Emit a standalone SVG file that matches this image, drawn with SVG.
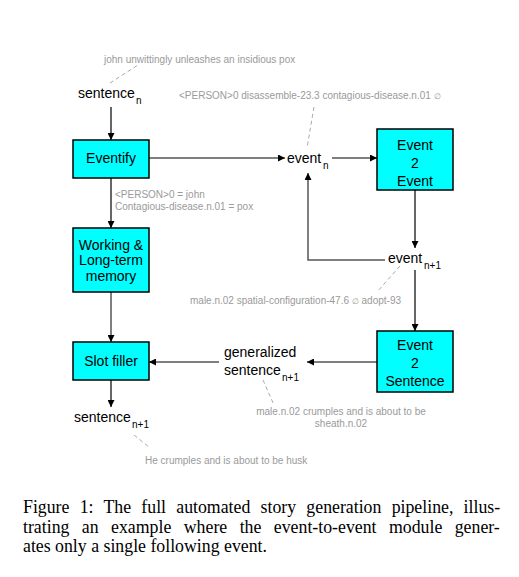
<svg xmlns="http://www.w3.org/2000/svg" width="519" height="577" viewBox="0 0 519 577">
<style>
.box{fill:#00ffff;stroke:#000;stroke-width:1.5}
.lbl{font-family:"Liberation Sans",Arial,sans-serif;font-size:14px;fill:#000}
.sub{font-family:"Liberation Sans",Arial,sans-serif;font-size:10px;fill:#000}
.gray{font-family:"Liberation Sans",Arial,sans-serif;font-size:10px;fill:#9a9a9a}
.sym{font-size:8px}
.ln{stroke:#000;stroke-width:1.2;fill:none}
.ln2{stroke:#555;stroke-width:1.5;fill:none}
.dash{stroke:#aaa;stroke-width:1;stroke-dasharray:4 3;fill:none}
.cap{font-family:"Liberation Serif","Times New Roman",serif;font-size:17.8px;fill:#000}
</style>
<defs>
<marker id="ah" viewBox="0 0 10 10" refX="10" refY="5" markerWidth="8" markerHeight="7" markerUnits="userSpaceOnUse" orient="auto">
<path d="M0,0 L10,5 L0,10 z" fill="#000"/>
</marker>
</defs>
<rect width="519" height="577" fill="#fff"/>

<g id="connectors">
<line class="ln" x1="111" y1="107" x2="111" y2="140" marker-end="url(#ah)"/>
<line class="ln" x1="149" y1="158" x2="285" y2="158" marker-end="url(#ah)"/>
<line class="ln" x1="332" y1="158" x2="377" y2="158" marker-end="url(#ah)"/>
<line class="ln" x1="111" y1="178" x2="111" y2="228" marker-end="url(#ah)"/>
<line class="ln2" x1="111" y1="292" x2="111" y2="342" marker-end="url(#ah)"/>
<line class="ln" x1="415" y1="190" x2="415" y2="248" marker-end="url(#ah)"/>
<polyline class="ln2" points="385,260 308,260 308,173" marker-end="url(#ah)"/>
<line class="ln" x1="415" y1="270" x2="415" y2="331" marker-end="url(#ah)"/>
<line class="ln" x1="377" y1="362" x2="307" y2="362" marker-end="url(#ah)"/>
<line class="ln" x1="219" y1="362" x2="149" y2="362" marker-end="url(#ah)"/>
<line class="ln" x1="111" y1="380" x2="111" y2="407" marker-end="url(#ah)"/>
<line class="dash" x1="110" y1="83" x2="138" y2="65"/>
<line class="dash" x1="314" y1="107" x2="307" y2="148"/>
<line class="dash" x1="400" y1="266" x2="377" y2="292"/>
<line class="dash" x1="263" y1="380" x2="274" y2="405"/>
<line class="dash" x1="134" y1="435" x2="149" y2="447"/>
</g>

<g id="sentence_n">
<text class="lbl" x="78" y="98">sentence</text><text class="sub" x="136" y="104">n</text>
</g>
<g id="eventify">
<rect class="box" x="73" y="140" width="76" height="38"/>
<text class="lbl" x="111" y="163" text-anchor="middle">Eventify</text>
</g>
<g id="memory">
<rect class="box" x="73" y="228" width="76" height="64"/>
<text class="lbl" x="111" y="250" text-anchor="middle">Working &amp;</text>
<text class="lbl" x="111" y="265" text-anchor="middle">Long-term</text>
<text class="lbl" x="111" y="281" text-anchor="middle">memory</text>
</g>
<g id="slotfiller">
<rect class="box" x="73" y="342" width="76" height="38"/>
<text class="lbl" x="111" y="366" text-anchor="middle">Slot filler</text>
</g>
<g id="sentence_n1">
<text class="lbl" x="74" y="422">sentence</text><text class="sub" x="132" y="428">n+1</text>
</g>
<g id="event_n">
<text class="lbl" x="287" y="163">event</text><text class="sub" x="323" y="169">n</text>
</g>
<g id="event2event">
<rect class="box" x="377" y="129" width="76" height="61"/>
<text class="lbl" x="415" y="150" text-anchor="middle">Event</text>
<text class="lbl" x="415" y="168" text-anchor="middle">2</text>
<text class="lbl" x="415" y="186" text-anchor="middle">Event</text>
</g>
<g id="event_n1">
<text class="lbl" x="388" y="263">event</text><text class="sub" x="424" y="269">n+1</text>
</g>
<g id="event2sentence">
<rect class="box" x="377" y="331" width="76" height="61"/>
<text class="lbl" x="415" y="350" text-anchor="middle">Event</text>
<text class="lbl" x="415" y="368" text-anchor="middle">2</text>
<text class="lbl" x="415" y="386" text-anchor="middle">Sentence</text>
</g>
<g id="gen_sentence">
<text class="lbl" x="224" y="357">generalized</text>
<text class="lbl" x="224" y="375">sentence</text><text class="sub" x="282" y="381">n+1</text>
</g>

<g id="annotations">
<text class="gray" x="104" y="63">john unwittingly unleashes an insidious pox</text>
<text class="gray" x="179" y="99">&lt;PERSON&gt;0 disassemble-23.3 contagious-disease.n.01 <tspan class="sym">∅</tspan></text>
<text class="gray" x="115" y="198">&lt;PERSON&gt;0 = john</text>
<text class="gray" x="115" y="210">Contagious-disease.n.01 = pox</text>
<text class="gray" x="190" y="304">male.n.02 spatial-configuration-47.6 <tspan class="sym">∅</tspan> adopt-93</text>
<text class="gray" x="341" y="415" text-anchor="middle">male.n.02 crumples and is about to be</text>
<text class="gray" x="341" y="427" text-anchor="middle">sheath.n.02</text>
<text class="gray" x="145" y="464">He crumples and is about to be husk</text>
</g>

<g id="caption">
<text class="cap" x="23" y="513" word-spacing="5.8">Figure 1: The full automated story generation pipeline, illus-</text>
<text class="cap" x="23" y="533" word-spacing="8">trating an example where the event-to-event module gener-</text>
<text class="cap" x="23" y="552">ates only a single following event.</text>
</g>
</svg>
